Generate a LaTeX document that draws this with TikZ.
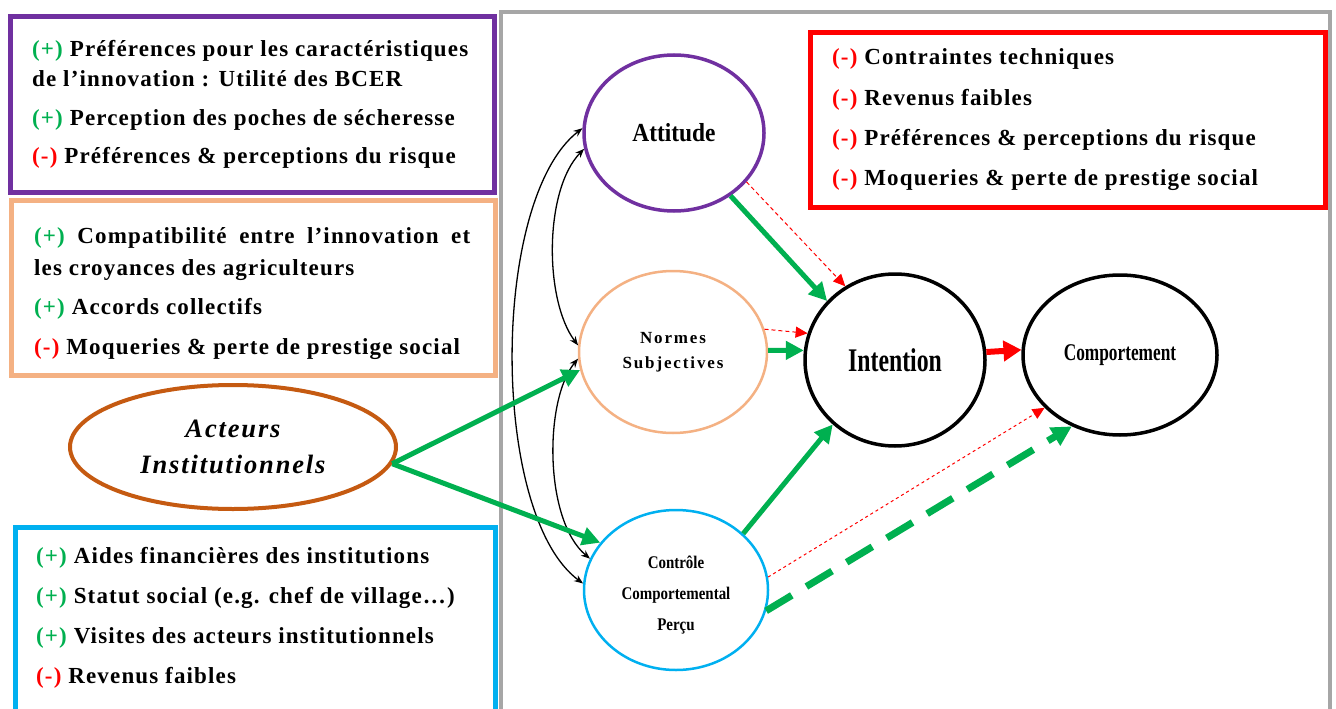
\documentclass[tikz,border=0pt]{standalone}
\usepackage{fontspec}
\setmainfont{Liberation Serif}
\newfontfamily\narrowfont[FakeStretch=0.72]{Liberation Serif}
\newfontfamily\semifont[FakeStretch=0.84]{Liberation Serif}
\newfontfamily\attfont[FakeStretch=0.9]{Liberation Serif}
\newfontfamily\boxfont[LetterSpace=5]{Liberation Serif}
\newfontfamily\actfont[LetterSpace=7]{Liberation Serif}
\newfontfamily\normfont[LetterSpace=11]{Liberation Serif}
\usetikzlibrary{shapes.geometric,arrows.meta}
\definecolor{cgreen}{HTML}{00B050}
\definecolor{cred}{HTML}{FF0000}
\definecolor{cpurple}{HTML}{7030A0}
\definecolor{corange}{HTML}{F4B183}
\definecolor{cblue}{HTML}{00B0F0}
\definecolor{cbrown}{HTML}{C55A11}
\definecolor{cgray}{HTML}{A6A6A6}
\newcommand{\plusmark}{\textcolor{cgreen}{(+)}}
\newcommand{\minusmark}{\textcolor{cred}{(-)}}
\tikzset{
  frame/.style={draw, line width=5pt, minimum width=#1, anchor=north west, inner sep=0pt},
  txt/.style={anchor=base west, inner sep=0pt, font=\boxfont\fontsize{23}{25}\selectfont\bfseries},
  oval/.style={ellipse, draw, line width=3.5pt, inner sep=0pt, align=center},
  garrow/.style={draw=cgreen, line width=5pt, -{Triangle[length=18pt,width=18pt]}},
  rdash/.style={draw=cred, line width=1pt, dash pattern=on 4pt off 3pt, -{Triangle[length=12pt,width=11pt]}},
  barrow/.style={draw=black, line width=1.3pt, {Stealth[length=9pt,width=7pt]}-{Stealth[length=9pt,width=7pt]}},
}
\begin{document}
\begin{tikzpicture}[x=1pt,y=-1pt]
\useasboundingbox (0,0) rectangle (1336,709);
\fill[white] (0,0) rectangle (1336,709);
% gray frame
\draw[cgray, line width=4pt] (501,730) -- (501,12) -- (1330,12) -- (1330,730);
% boxes
\node[frame=484pt, draw=cpurple, minimum height=176pt] (pbox) at (8,14) {};
\node[frame=484pt, draw=corange, minimum height=175pt] (obox) at (9,198) {};
\node[frame=480pt, draw=cblue, minimum height=200pt] (bbox) at (13,525) {};
\node[frame=515pt, draw=cred, minimum height=175pt] (rbox) at (808,30) {};
% purple text
\node[txt] (p1) at (32,57) {\plusmark{} Préférences pour les caractéristiques};
\node[txt] (p2) at (32,87) {de l’innovation : Utilité des BCER};
\node[txt] (p3) at (32,125) {\plusmark{} Perception des poches de sécheresse};
\node[txt] (p4) at (32,163) {\minusmark{} Préférences \& perceptions du risque};
% orange text
\node[txt] (o1) at (34,243) {\makebox[436pt][s]{\plusmark{} Compatibilité entre l’innovation et}};
\node[txt] (o2) at (34,275) {les croyances des agriculteurs};
\node[txt] (o3) at (34,314) {\plusmark{} Accords collectifs};
\node[txt] (o4) at (34,354) {\minusmark{} Moqueries \& perte de prestige social};
% blue text
\node[txt] (b1) at (36,563) {\plusmark{} Aides financières des institutions};
\node[txt] (b2) at (36,603) {\plusmark{} Statut social (e.g. chef de village…)};
\node[txt] (b3) at (36,643) {\plusmark{} Visites des acteurs institutionnels};
\node[txt] (b4) at (36,683) {\minusmark{} Revenus faibles};
% red text
\node[txt] (r1) at (832,65) {\minusmark{} Contraintes techniques};
\node[txt] (r2) at (832,105) {\minusmark{} Revenus faibles};
\node[txt] (r3) at (832,145) {\minusmark{} Préférences \& perceptions du risque};
\node[txt] (r4) at (832,185) {\minusmark{} Moqueries \& perte de prestige social};
% ovals
\node[oval, draw=cpurple, minimum width=180pt, minimum height=156pt, font=\attfont\bfseries\fontsize{26}{28}\selectfont] (att) at (674,133) {Attitude};
\node[oval, draw=corange, line width=2.5pt, minimum width=188pt, minimum height=162pt, font=\normfont\bfseries\fontsize{17}{25}\selectfont] (norm) at (673,352) {Normes\\Subjectives};
\node[oval, draw=cblue, line width=2.5pt, minimum width=184pt, minimum height=160pt, font=\semifont\bfseries\fontsize{17.8}{31}\selectfont] (ctrl) at (676,590) {\rule{0pt}{23pt}Contrôle\\Comportemental\\Perçu};
\node[oval, draw=black, minimum width=180pt, minimum height=172pt, font=\narrowfont\bfseries\fontsize{33}{36}\selectfont] (int) at (895,360) {Intention};
\node[oval, draw=black, minimum width=194pt, minimum height=160pt, font=\narrowfont\bfseries\fontsize{24}{26}\selectfont] (comp) at (1120,355) {Comportement};
\node[oval, draw=cbrown, line width=4pt, minimum width=326pt, minimum height=124pt, font=\actfont\bfseries\itshape\fontsize{26.5}{36}\selectfont] (act) at (233,447) {Acteurs\\Institutionnels};
% left curved double arrows
\draw[barrow] (att.177) .. controls (490,200) and (490,515) .. (ctrl.176);
\draw[barrow] (att.190) .. controls (544,190) and (544,300) .. (norm.176);
\draw[barrow] (norm.184) .. controls (544,400) and (544,520) .. (ctrl.160);
% green arrows from actors
\draw[garrow] (act.-6) -- (norm.191);
\draw[garrow] (act.-6) -- (ctrl.148);
% attitude to intention
\draw[rdash] (att.-34) -- (int.124);
\draw[garrow] (att.-48) -- (int.139);
% normes to intention
\draw[rdash] (norm.14) -- (int.163);
\draw[garrow] (norm.1) -- (int.174);
% intention to comportement
\draw[draw=cred, line width=6pt, -{Triangle[length=18pt,width=20pt]}] (int.5) -- (comp.177);
% controle
\draw[garrow] (ctrl.40) -- (int.-134);
\draw[rdash, dash pattern=on 3pt off 3pt] (ctrl.8) -- (comp.215);
\draw[draw=cgreen, line width=7pt, dash pattern=on 30pt off 17pt, -{Triangle[length=20pt,width=20pt]}] (ctrl.-13) -- (comp.236);
\end{tikzpicture}
\end{document}
